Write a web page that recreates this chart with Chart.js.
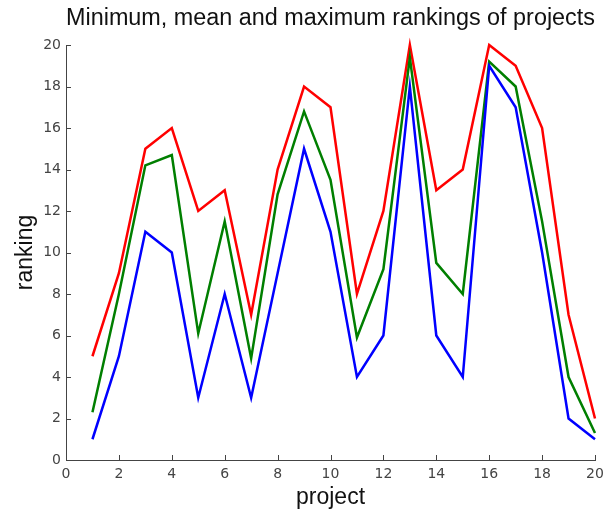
<!DOCTYPE html>
<html>
<head>
<meta charset="utf-8">
<script src="https://cdn.jsdelivr.net/npm/chart.js@4/dist/chart.umd.min.js"></script>
<style>
  html, body { margin: 0; padding: 0; background: #fff; }
  #wrap { width: 612px; height: 512px; }
</style>
</head>
<body>
<div id="wrap"><canvas id="c" width="612" height="512"></canvas></div>
<script>
const projects = [1, 2, 3, 4, 5, 6, 7, 8, 9, 10, 11, 12, 13, 14, 15, 16, 17, 18, 19, 20];
const minRank  = [1, 5, 11, 10, 3, 8, 3, 9, 15, 11, 4, 6, 18, 6, 4, 19, 17, 10, 2, 1];
const meanRank = [2.3, 8.0, 14.2, 14.7, 6.1, 11.5, 4.9, 12.8, 16.8, 13.5, 5.9, 9.2, 19.4, 9.5, 8.0, 19.2, 18.0, 11.5, 4.0, 1.3];
const maxRank  = [5, 9, 15, 16, 12, 13, 7, 14, 18, 17, 8, 12, 20, 13, 14, 20, 19, 16, 7, 2];
const xTicks = [0, 2, 4, 6, 8, 10, 12, 14, 16, 18, 20];
const yTicks = [0, 2, 4, 6, 8, 10, 12, 14, 16, 18, 20];

const pts = arr => projects.map((p, i) => ({ x: p, y: arr[i] }));

const innerTicks = {
  id: 'innerTicks',
  afterDraw(chart) {
    const ctx = chart.ctx;
    const xs = chart.scales.x, ys = chart.scales.y;
    const L = 5;
    ctx.save();
    ctx.strokeStyle = '#444';
    ctx.lineWidth = 1;
    ctx.beginPath();
    xTicks.forEach(v => {
      const px = Math.round(xs.getPixelForValue(v)) + 0.5;
      ctx.moveTo(px, ys.bottom);
      ctx.lineTo(px, ys.bottom - L);
    });
    yTicks.forEach(v => {
      const py = Math.round(ys.getPixelForValue(v)) + 0.5;
      ctx.moveTo(xs.left, py);
      ctx.lineTo(xs.left + L, py);
    });
    ctx.stroke();
    ctx.restore();
  }
};

const lineDs = (label, data, color) => ({
  label, data: pts(data), borderColor: color, backgroundColor: color,
  borderWidth: 2.5, pointRadius: 0, tension: 0, fill: false,
  borderJoinStyle: 'miter', clip: false
});

const SANS = 'Liberation Sans, Arial, sans-serif';
const TICKF = 'DejaVu Sans, sans-serif';

new Chart(document.getElementById('c'), {
  type: 'line',
  data: {
    datasets: [
      lineDs('minimum', minRank, '#0000ff'),
      lineDs('mean', meanRank, '#007f00'),
      lineDs('maximum', maxRank, '#ff0000')
    ]
  },
  options: {
    responsive: false,
    animation: false,
    devicePixelRatio: 1,
    layout: { padding: { left: 0, right: 17, top: 0, bottom: 0 } },
    plugins: {
      legend: { display: false },
      tooltip: { enabled: false },
      title: {
        display: true,
        fullSize: false,
        text: 'Minimum, mean and maximum rankings of projects',
        color: '#111',
        font: { family: SANS, size: 23.5, weight: 'normal' },
        padding: { top: 4, bottom: 12.8 }
      }
    },
    scales: {
      x: {
        type: 'linear', min: 0, max: 20,
        afterFit: s => { s.height = 52; },
        afterBuildTicks: s => { s.ticks = xTicks.map(v => ({ value: v })); },
        ticks: { color: '#444', padding: 6, maxRotation: 0,
                 font: { family: TICKF, size: 14 } },
        grid: { display: false, drawTicks: false },
        border: { display: true, color: '#444', width: 1 },
        title: { display: true, text: 'project', color: '#111',
                 font: { family: SANS, size: 23 },
                 padding: { top: 0, bottom: 1 } }
      },
      y: {
        type: 'linear', min: 0, max: 20,
        afterFit: s => { s.width = 66; },
        afterBuildTicks: s => { s.ticks = yTicks.map(v => ({ value: v })); },
        ticks: { color: '#444', padding: 5,
                 font: { family: TICKF, size: 14 } },
        grid: { display: false, drawTicks: false },
        border: { display: true, color: '#444', width: 1 },
        title: { display: true, text: 'ranking', color: '#111',
                 font: { family: SANS, size: 23 },
                 padding: { top: 12, bottom: 0 } }
      }
    }
  },
  plugins: [innerTicks]
});
</script>
</body>
</html>
